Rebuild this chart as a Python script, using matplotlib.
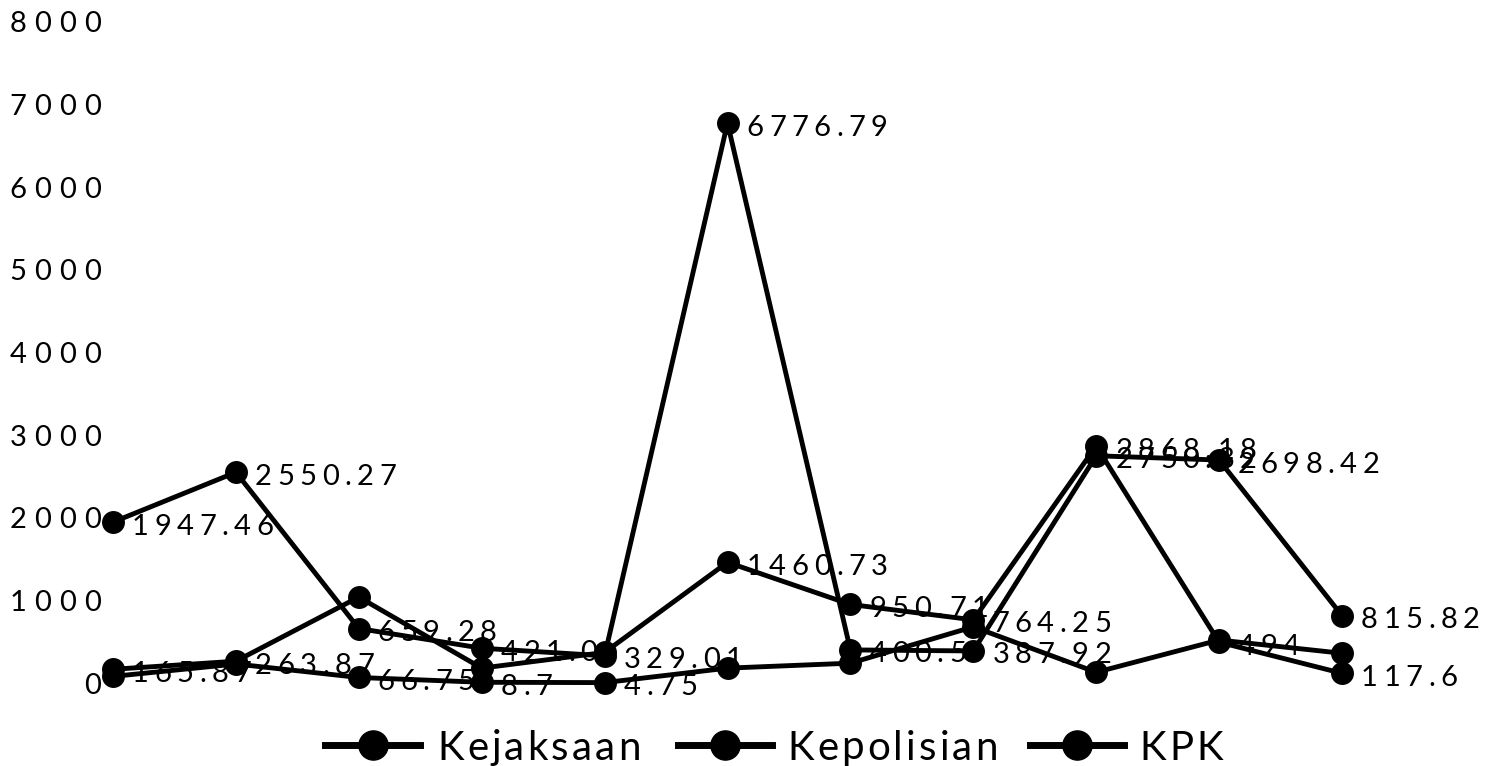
import matplotlib
matplotlib.use("Agg")
import matplotlib.pyplot as plt
from matplotlib.font_manager import FontProperties
from matplotlib.textpath import text_to_path
from matplotlib.transforms import IdentityTransform
from matplotlib.lines import Line2D

# ---------------------------------------------------------------------------
# Data: loss per period (11 periods), three institutions
# ---------------------------------------------------------------------------
periods = list(range(11))
kejaksaan = [1947.46, 2550.27, 659.28, 421.0, 329.01, 6776.79, 400.5, 387.92, 2750.32, 2698.42, 815.82]
kepolisian = [165.87, 263.87, 1040, 180, 370, 1460.73, 950.71, 764.25, 2868.18, 494, 117.6]
kpk = [80, 230, 66.75, 8.7, 4.75, 180, 240, 680, 130, 520, 360]

# which points get a value label
kejaksaan_lab = [1, 1, 1, 1, 1, 1, 1, 1, 1, 1, 1]
kepolisian_lab = [1, 1, 0, 0, 0, 1, 1, 1, 1, 1, 1]
kpk_lab = [0, 0, 1, 1, 1, 0, 0, 0, 0, 0, 0]

series_names = ["Kejaksaan", "Kepolisian", "KPK"]
y_ticks = [0, 1000, 2000, 3000, 4000, 5000, 6000, 7000, 8000]

DPI = 100
W, H = 1487, 766

fig = plt.figure(figsize=(W / DPI, H / DPI), dpi=DPI)
fig.patch.set_facecolor("white")
ax = fig.add_axes([113 / W, 1 - 683 / H, (1342 - 113) / W, (683 - 22) / H])
ax.set_xlim(0, 10)
ax.set_ylim(0, 8000)
ax.axis("off")

num_font = FontProperties(family="Lato", size=21)
leg_font = FontProperties(family="Lato", size=29)


def advance(ch, prop):
    # glyph advance in pixels, measured between two reference glyphs
    w1, _, _ = text_to_path.get_text_width_height_descent("H" + ch + "H", prop, ismath=False)
    w0, _, _ = text_to_path.get_text_width_height_descent("HH", prop, ismath=False)
    return (w1 - w0) * DPI / 72


def tracked(x, y, s, prop, track, ha="left", cap=0.72, zorder=5):
    # letter-spaced text; x, y in pixels from the top-left, y = text middle
    em = prop.get_size_in_points() * DPI / 72
    advs = [advance(c, prop) for c in s]
    total = sum(advs) + track * (len(s) - 1)
    x0 = {"left": x, "right": x - total, "center": x - total / 2}[ha]
    base = H - (y + cap * em / 2)
    cur = x0
    for c, a in zip(s, advs):
        fig.text(cur + a / 2, base, c, fontproperties=prop, ha="center",
                 va="baseline", transform=IdentityTransform(), zorder=zorder)
        cur += a + track


# y-axis tick labels
for t in y_ticks:
    _, yd = ax.transData.transform((0, t))
    tracked(101, H - yd, str(t), num_font, 8, ha="right")

# lines, markers and value labels
for vals, labs in [(kejaksaan, kejaksaan_lab), (kepolisian, kepolisian_lab), (kpk, kpk_lab)]:
    ax.plot(periods, vals, color="black", lw=3.5, marker="o", ms=15.5,
            clip_on=False, zorder=3)
    for i, (v, show) in enumerate(zip(vals, labs)):
        if not show:
            continue
        xd, yd = ax.transData.transform((i, v))
        tracked(xd + 19, H - yd + 2, str(v), num_font, 5.5, ha="left")

# legend drawn along the bottom
legend_items = [(325, 420, 437), (678, 772, 787), (1030, 1124, 1139)]
for name, (x0, x1, xt) in zip(series_names, legend_items):
    yl = H - 745
    fig.add_artist(Line2D([x0, x1], [yl, yl], color="black", lw=5,
                          transform=IdentityTransform()))
    fig.add_artist(Line2D([(x0 + x1) / 2], [yl], color="black", marker="o",
                          ms=21, transform=IdentityTransform()))
    tracked(xt, 745, name, leg_font, 3.2, ha="left")

fig.savefig("out.png", dpi=DPI, facecolor="white")
